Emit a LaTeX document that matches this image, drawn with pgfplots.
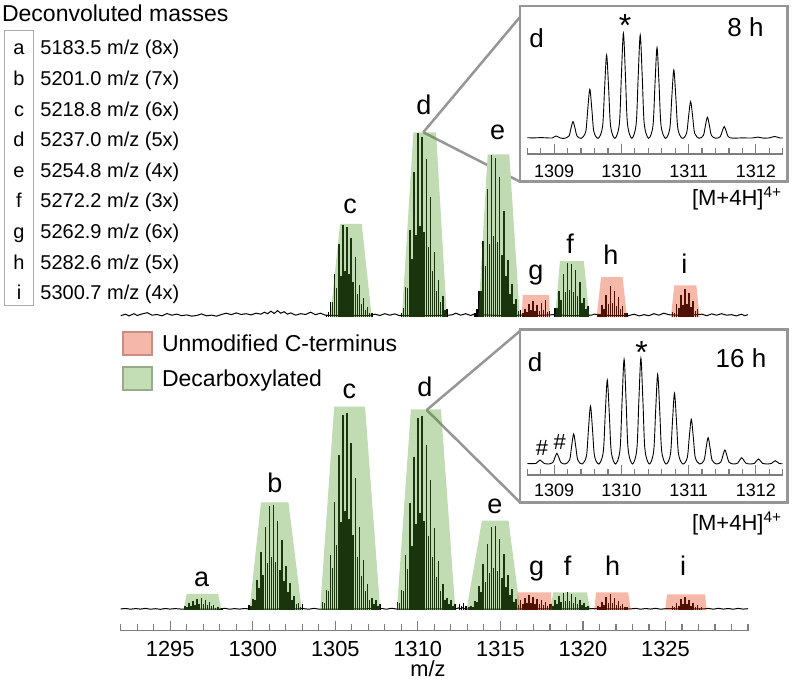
\documentclass[border=0pt]{standalone}
\usepackage{fontspec}
\setmainfont{Liberation Sans}
\usepackage{pgfplots}
\usepackage{pgfplotstable}
\pgfplotsset{compat=1.18}

\definecolor{gshade}{rgb}{0.30,0.60,0.15}
\definecolor{rshade}{rgb}{0.89,0.20,0.03}
\definecolor{axgray}{RGB}{125,125,125}
\definecolor{boxgray}{RGB}{150,150,150}
\definecolor{gleg}{RGB}{195,221,180}
\definecolor{glegb}{RGB}{150,172,138}
\definecolor{rleg}{RGB}{244,183,170}
\definecolor{rlegb}{RGB}{200,142,132}
\newcommand{\fs}[1]{\fontsize{#1}{#1}\selectfont}

% ---------- 16 h spectrum (bottom): isotope sticks, height in px above baseline
\pgfplotstableread{
x y
1295.88 3.1
1296.005 2.3
1296.13 6.0
1296.255 3.6
1296.38 8.7
1296.505 4.9
1296.63 10.9
1296.755 5.5
1296.88 11.0
1297.005 5.1
1297.13 9.4
1297.255 4.2
1297.38 7.4
1297.505 3.0
1297.63 4.6
1297.755 1.9
1297.88 2.8
1298.005 1.0
1298.13 1.4
1299.76 4.2
1299.885 3.6
1300.01 10.4
1300.135 9.9
1300.26 29.1
1300.385 21.8
1300.51 57.2
1300.635 34.3
1300.76 82.2
1300.885 46.3
1301.01 103
1301.135 52
1301.26 104
1301.385 47.8
1301.51 88.4
1301.635 39.5
1301.76 69.7
1301.885 28.1
1302.01 43.7
1302.135 17.7
1302.26 26
1302.385 9.9
1302.51 13.5
1302.635 5
1302.76 6.2
1302.885 2.9
1303.01 5.2
1304.21 7.8
1304.335 6.9
1304.46 19.6
1304.585 18.6
1304.71 54.9
1304.835 41.2
1304.96 107.8
1305.085 64.7
1305.21 154.8
1305.335 87.2
1305.46 194
1305.585 98
1305.71 196
1305.835 90.2
1305.96 166.6
1306.085 74.5
1306.21 131.3
1306.335 52.9
1306.46 82.3
1306.585 33.3
1306.71 49
1306.835 18.6
1306.96 25.5
1307.085 9.4
1307.21 11.8
1307.335 5.5
1307.46 9.8
1307.585 3.9
1307.71 5.9
1308.76 7.7
1308.885 6.8
1309.01 19.3
1309.135 18.3
1309.26 54
1309.385 40.5
1309.51 106
1309.635 63.7
1309.76 152
1309.885 85.9
1310.01 191
1310.135 96.5
1310.26 193
1310.385 88.8
1310.51 164
1310.635 73.3
1310.76 129
1310.885 52.1
1311.01 81
1311.135 32.8
1311.26 48
1311.385 18.3
1311.51 25
1311.635 9.3
1311.76 11.6
1311.885 5.4
1312.01 9.6
1312.135 3.9
1312.26 5.8
1312.51 5
1312.635 3
1312.76 6
1312.885 3.5
1312.96 3
1313.085 2.5
1313.21 3.3
1313.335 2.9
1313.46 8.3
1313.585 7.9
1313.71 23.2
1313.835 17.4
1313.96 45.7
1314.085 27.4
1314.21 65.6
1314.335 36.9
1314.46 82.2
1314.585 41.5
1314.71 83
1314.835 38.2
1314.96 70.6
1315.085 31.5
1315.21 55.6
1315.335 22.4
1315.46 34.9
1315.585 14.1
1315.71 20.8
1315.835 7.9
1315.96 10.8
1316.105 4
1316.23 9
1316.355 5
1316.48 11
1316.605 6
1316.73 14
1316.855 6
1316.98 12
1317.105 5
1317.23 10
1317.355 5
1317.48 9
1317.605 4
1317.73 7
1317.855 3
1317.98 5
1318.06 5
1318.185 3
1318.31 9
1318.435 5
1318.56 13
1318.685 7
1318.81 16
1318.935 8
1319.06 17
1319.185 8
1319.31 15
1319.435 6
1319.56 12
1319.685 5
1319.81 9
1319.935 4
1320.06 6
1320.185 2
1320.31 3.5
1320.91 3
1321.035 2
1321.16 7
1321.285 4
1321.41 12
1321.535 6
1321.66 15
1321.785 6
1321.91 11
1322.035 4
1322.16 8
1322.285 3
1322.41 5
1322.535 2
1322.66 2.5
1325.43 3
1325.555 2
1325.68 6
1325.805 3.5
1325.93 10
1326.055 5
1326.18 12
1326.305 5
1326.43 9
1326.555 3.5
1326.68 6
1326.805 2.5
1326.93 4
1327.055 1.5
1327.18 2
}\botsticks

\pgfplotstableread{
x y
1292.0 0.6
1292.3 1.0
1292.6 0.3
1292.9 0.9
1293.2 0.4
1293.5 1.1
1293.8 0.3
1294.1 0.8
1294.4 0.2
1294.7 1.0
1295.0 0.4
1295.3 0.9
1295.6 0.5
1296.5 0.5
1297.5 0.5
1298.0 0.5
1298.3 1.2
1298.6 0.3
1298.9 0.9
1299.2 0.4
1299.5 1.0
1299.8 0.5
1301.5 0.5
1303.1 0.8
1303.4 0.3
1303.7 1.1
1304.0 0.4
1306.0 0.5
1307.8 1.0
1308.1 0.3
1308.4 1.2
1308.7 0.5
1310.5 0.5
1312.3 0.8
1312.45 1.5
1312.6 0.8
1312.7 1.8
1312.85 0.6
1313.0 0.5
1316.0 0.5
1320.5 0.8
1322.9 0.6
1323.2 1.1
1323.5 0.3
1323.8 1.0
1324.1 0.4
1324.4 1.2
1324.7 0.3
1325.0 0.8
1327.3 0.6
1327.6 1.1
1327.9 0.3
1328.2 1.2
1328.5 0.4
1328.8 1.0
1329.1 0.3
1329.4 1.1
1329.7 0.4
1330.0 0.8
}\botnoise

% ---------- 8 h spectrum (top)
\pgfplotstableread{
x y
1304.46 1.8
1304.585 4.5
1304.71 14.7
1304.835 14.5
1304.96 43.1
1305.085 28.9
1305.21 72.4
1305.335 41
1305.46 91.7
1305.585 45.4
1305.71 89.9
1305.835 42.2
1305.96 78.9
1306.085 34.6
1306.21 59.6
1306.335 23
1306.46 32.1
1306.585 12.6
1306.71 18.3
1306.835 7.1
1306.96 10.1
1307.085 3.5
1307.21 3.7
1309.01 3.7
1309.135 8.3
1309.26 29.3
1309.385 28.9
1309.51 86.2
1309.635 57.8
1309.76 144.9
1309.885 82.1
1310.01 183.4
1310.135 90.8
1310.26 179.7
1310.385 84.4
1310.51 157.7
1310.635 69.2
1310.76 119.2
1310.885 45.9
1311.01 64.2
1311.135 25.2
1311.26 36.7
1311.385 14.2
1311.51 20.2
1311.635 6.9
1311.76 7.3
1313.46 3.2
1313.585 7.3
1313.71 25.9
1313.835 25.5
1313.96 76.1
1314.085 51
1314.21 128
1314.335 72.5
1314.46 162
1314.585 80.2
1314.71 158.8
1314.835 74.5
1314.96 139.3
1315.085 61.2
1315.21 105.3
1315.335 40.5
1315.46 56.7
1315.585 22.3
1315.71 32.4
1315.835 12.6
1315.96 17.8
1316.085 6.1
1316.21 6.5
1316.355 4
1316.48 8
1316.605 5
1316.73 13
1316.855 7
1316.98 16
1317.105 6
1317.23 12
1317.355 6
1317.48 14
1317.605 7
1317.73 17
1317.855 5
1317.98 6
1318.31 8.6
1318.435 8.5
1318.56 25.4
1318.685 17
1318.81 42.7
1318.935 24.2
1319.06 54
1319.185 26.7
1319.31 52.9
1319.435 24.8
1319.56 46.4
1319.685 20.4
1319.81 35.1
1319.935 13.5
1320.06 18.9
1320.185 7.4
1320.31 10.8
1320.91 3
1321.035 3
1321.16 12
1321.285 8
1321.41 22
1321.535 13
1321.66 30.6
1321.785 14
1321.91 26
1322.035 11
1322.16 20
1322.285 8
1322.41 11
1322.535 4
1322.66 4
1325.43 5
1325.555 4
1325.68 13
1325.805 9
1325.93 22
1326.055 12
1326.18 28
1326.305 13
1326.43 24
1326.555 10
1326.68 16
1326.805 6
1326.93 8
}\topsticks

\pgfplotstableread{
x y
1292.0 1.0
1292.3 2.5
1292.5 0.8
1292.8 3.0
1293.0 1.2
1293.3 2.8
1293.6 4.0
1293.9 1.5
1294.2 2.2
1294.5 0.8
1294.8 3.2
1295.1 1.5
1295.4 2.6
1295.7 1.0
1296.0 1.8
1296.3 0.6
1296.6 1.2
1296.9 2.8
1297.2 0.8
1297.5 1.6
1297.8 0.5
1298.1 2.2
1298.4 3.5
1298.7 2.0
1299.0 3.8
1299.3 2.2
1299.6 3.0
1299.9 1.8
1300.2 3.5
1300.5 2.5
1300.7 4.5
1300.9 3.0
1301.1 5.5
1301.3 3.2
1301.5 6.0
1301.7 3.5
1301.9 5.0
1302.1 2.5
1302.3 3.8
1302.6 1.5
1302.9 3.0
1303.2 2.2
1303.5 4.5
1303.8 2.0
1304.1 3.5
1304.4 1.5
1305.5 1.0
1307.0 1.0
1307.4 2.5
1307.7 1.2
1308.0 3.0
1308.3 1.5
1308.6 2.8
1308.9 1.0
1310.5 1.0
1311.9 1.5
1312.1 2.0
1312.3 3.5
1312.6 1.5
1312.9 3.0
1313.2 1.2
1313.4 2.5
1315.0 1.0
1316.25 1.5
1317.0 1.0
1318.15 2.0
1319.3 1.0
1320.5 1.5
1320.7 2.5
1321.8 1.0
1322.8 1.2
1323.1 2.5
1323.4 0.8
1323.7 2.0
1324.0 1.0
1324.3 3.0
1324.6 1.5
1324.9 3.5
1325.2 2.0
1326.2 1.0
1327.2 2.5
1327.5 1.0
1327.8 2.8
1328.1 1.5
1328.4 3.0
1328.7 1.5
1329.0 2.0
1329.3 0.8
1329.6 2.5
1329.8 1.0
1330.0 2.0
}\topnoise

% ---------- insets (peak d, profile)
\pgfplotstableread{
x y
1308.60 0.6
1308.70 0.4
1308.80 0.7
1308.90 0.4
1308.97 0.3
1309.00 1.4
1309.03 2.3
1309.06 1.4
1309.09 0.3
1309.155 0
1309.22 2.3
1309.25 10.0
1309.28 16.7
1309.31 10.0
1309.34 2.3
1309.405 0
1309.47 6.9
1309.50 29.4
1309.53 49
1309.56 29.4
1309.59 6.9
1309.655 0
1309.72 11.7
1309.75 50.0
1309.78 83.3
1309.81 50.0
1309.84 11.7
1309.905 0
1309.97 14.7
1310.00 63.0
1310.03 105
1310.06 63.0
1310.09 14.7
1310.155 0
1310.22 14.5
1310.25 62.0
1310.28 103.3
1310.31 62.0
1310.34 14.5
1310.405 0
1310.47 12.7
1310.50 54.4
1310.53 90.7
1310.56 54.4
1310.59 12.7
1310.655 0
1310.72 9.6
1310.75 41.0
1310.78 68.3
1310.81 41.0
1310.84 9.6
1310.905 0
1310.97 5.1
1311.00 22.0
1311.03 36.7
1311.06 22.0
1311.09 5.1
1311.155 0
1311.22 2.9
1311.25 12.6
1311.28 21
1311.31 12.6
1311.34 2.9
1311.405 0
1311.47 1.6
1311.50 7.0
1311.53 11.7
1311.56 7.0
1311.59 1.6
1311.655 0.2
1311.80 0.4
1311.95 0.3
1312.03 1.2
1312.11 0.2
1312.20 0.4
1312.28 1.8
1312.36 0.3
1312.40 0.5
}\insetA

\pgfplotstableread{
x y
1308.60 0.5
1308.68 0.3
1308.73 0.6
1308.76 2.4
1308.79 4
1308.82 2.4
1308.85 0.6
1308.915 0
1308.98 1.5
1309.01 6.4
1309.04 10.7
1309.07 6.4
1309.10 1.5
1309.165 0
1309.23 4.2
1309.26 18
1309.29 30
1309.32 18
1309.35 4.2
1309.415 0
1309.48 8.1
1309.51 34.8
1309.54 58
1309.57 34.8
1309.60 8.1
1309.665 0
1309.73 11.8
1309.76 50.4
1309.79 84
1309.82 50.4
1309.85 11.8
1309.915 0
1309.98 14.7
1310.01 62.8
1310.04 104.7
1310.07 62.8
1310.10 14.7
1310.165 0
1310.23 14.8
1310.26 63.4
1310.29 105.7
1310.32 63.4
1310.35 14.8
1310.415 0
1310.48 12.6
1310.51 53.8
1310.54 89.7
1310.57 53.8
1310.60 12.6
1310.665 0
1310.73 9.9
1310.76 42.4
1310.79 70.7
1310.82 42.4
1310.85 9.9
1310.915 0
1310.98 6.3
1311.01 26.8
1311.04 44.7
1311.07 26.8
1311.10 6.3
1311.165 0
1311.23 3.7
1311.26 15.8
1311.29 26.3
1311.32 15.8
1311.35 3.7
1311.415 0
1311.48 2.0
1311.51 8.4
1311.54 14
1311.57 8.4
1311.60 2.0
1311.665 0
1311.73 0.9
1311.76 3.8
1311.79 6.3
1311.82 3.8
1311.85 0.9
1311.915 0
1311.98 0.7
1312.01 3.0
1312.04 5
1312.07 3.0
1312.10 0.7
1312.165 0
1312.23 0.5
1312.26 2.0
1312.29 3.3
1312.32 2.0
1312.35 0.5
1312.40 0.2
}\insetB

\pgfplotsset{
  mainax/.style={scale only axis, clip=false, xmin=1292, xmax=1330, width=313.65pt},
  insetax/.style={scale only axis, clip=false, xmin=1308.6, xmax=1312.4, width=127.7pt,
    axis x line*=bottom, axis y line=none, ytick=\empty,
    xtick={1309,1310,1311,1312},
    minor xtick={1308.6,1308.8,1309.2,1309.4,1309.6,1309.8,1310.2,1310.4,1310.6,1310.8,1311.2,1311.4,1311.6,1311.8,1312.2,1312.4},
    tick align=inside, major tick length=5pt, minor tick length=3pt,
    tick style={axgray, line width=0.6pt},
    axis line style={axgray, line width=0.75pt},
    xticklabel style={font=\fs{9}, anchor=center, inner sep=0pt},
    /pgf/number format/assume math mode=true,
    /pgf/number format/set thousands separator={}},
  stick/.style={ycomb, black, line width=0.75pt, mark=none},
  gsh/.style={fill=gshade, fill opacity=0.35, draw=none},
  rsh/.style={fill=rshade, fill opacity=0.35, draw=none},
}

\begin{document}
\begin{tikzpicture}[x=0.5pt,y=-0.5pt]
\path[use as bounding box] (0,0) rectangle (793,689);

% connectors and inset frames
\draw[boxgray, line width=1.25pt] (423.3,132.3) -- (520,17);
\draw[boxgray, line width=1.25pt] (423.3,132.3) -- (520,181.7);
\draw[boxgray, line width=1.25pt] (426.7,410) -- (520,331);
\draw[boxgray, line width=1.25pt] (426.7,410) -- (520,502.3);
\draw[boxgray, line width=1.25pt, fill=white] (520,6) rectangle (787.3,181.7);
\draw[boxgray, line width=1.25pt, fill=white] (520,329.3) rectangle (787.3,502.3);

% ---------- bottom spectrum (16 h) with the m/z axis
\begin{axis}[mainax, at={(60.35pt,-315.35pt)}, anchor=south west,
  ymin=-21.2, ymax=210, height=115.6pt,
  axis x line*=bottom, axis y line=none, ytick=\empty,
  xtick={1295,1300,1305,1310,1315,1320,1325},
  minor xtick={1292,1293,...,1330},
  tick align=inside, major tick length=5pt, minor tick length=3.2pt,
  tick style={axgray, line width=0.6pt},
  axis line style={axgray, line width=0.75pt},
  xticklabel style={font=\fs{10.9}, anchor=center, inner sep=0pt, yshift=-9.15pt},
  /pgf/number format/assume math mode=true,
  /pgf/number format/set thousands separator={}]
\addplot[black, line width=0.5pt] table {\botnoise};
\addplot[stick] table {\botsticks};
\addplot[gsh] coordinates {(1295.8,-0.5) (1296.0,15.5) (1297.9,15.5) (1298.1,-0.5)} -- cycle;
\addplot[gsh] coordinates {(1299.8,-0.5) (1300.5,107.2) (1302.16,107.2) (1302.97,-0.5)} -- cycle;
\addplot[gsh] coordinates {(1304.08,-0.5) (1304.93,202.8) (1306.8,202.8) (1307.72,-0.5)} -- cycle;
\addplot[gsh] coordinates {(1308.73,-0.5) (1309.58,200.2) (1311.4,200.2) (1312.27,-0.5)} -- cycle;
\addplot[gsh] coordinates {(1312.95,-0.5) (1313.88,88.8) (1315.49,88.8) (1316.2,-0.5)} -- cycle;
\addplot[rsh] coordinates {(1316.0,-0.5) (1316.06,17.2) (1318.06,17.2) (1318.12,-0.5)} -- cycle;
\addplot[gsh] coordinates {(1318.02,-0.5) (1318.2,17.2) (1320.24,17.2) (1320.45,-0.5)} -- cycle;
\addplot[rsh] coordinates {(1320.68,-0.5) (1320.8,17.2) (1322.74,17.2) (1322.9,-0.5)} -- cycle;
\addplot[rsh] coordinates {(1324.99,-0.5) (1325.09,15.2) (1327.4,15.2) (1327.5,-0.5)} -- cycle;
\end{axis}

% ---------- top spectrum (8 h)
\begin{axis}[mainax, at={(60.35pt,-158.35pt)}, anchor=south west,
  ymin=0, ymax=200, height=100pt, hide axis]
\addplot[fill=white, draw=none] coordinates {(1313.66,-0.5) (1314.23,162.4) (1315.54,162.4) (1316.18,-0.5)} -- cycle;
\addplot[black, line width=0.5pt] table {\topnoise};
\addplot[stick] table {\topsticks};
\addplot[gsh] coordinates {(1304.69,-0.5) (1305.29,92.7) (1306.6,92.7) (1307.21,-0.5)} -- cycle;
\addplot[gsh] coordinates {(1309.03,-0.5) (1309.73,184.4) (1311.1,184.4) (1311.76,-0.5)} -- cycle;
\addplot[gsh] coordinates {(1313.66,-0.5) (1314.23,162.4) (1315.54,162.4) (1316.18,-0.5)} -- cycle;
\addplot[rsh] coordinates {(1316.3,-0.5) (1316.35,21.6) (1317.95,21.6) (1318.0,-0.5)} -- cycle;
\addplot[gsh] coordinates {(1318.31,-0.5) (1318.61,55.6) (1320.06,55.6) (1320.39,-0.5)} -- cycle;
\addplot[rsh] coordinates {(1320.83,-0.5) (1321.1,39.6) (1322.4,39.6) (1322.67,-0.5)} -- cycle;
\addplot[rsh] coordinates {(1325.33,-0.5) (1325.53,31.3) (1326.87,31.3) (1327.07,-0.5)} -- cycle;
\end{axis}

% ---------- insets
\begin{axis}[insetax, at={(263.65pt,-77pt)}, anchor=south west,
  ymin=-15.7, ymax=110, height=62.85pt, xticklabel style={yshift=-8.85pt}]
\addplot[black, line width=0.45pt, smooth] table {\insetA};
\end{axis}
\begin{axis}[insetax, at={(263.65pt,-237.5pt)}, anchor=south west,
  ymin=-11, ymax=110, height=60.5pt, xticklabel style={yshift=-7.8pt}]
\addplot[black, line width=0.45pt, smooth] table {\insetB};
\end{axis}

% ---------- peak letters
\begin{scope}[every node/.style={inner sep=0pt, font=\fs{13.5}}]
\node[anchor=base] at (201.7,586.7) {a};
\node[anchor=base] at (275,492.7) {b};
\node[anchor=base] at (349.3,398.3) {c};
\node[anchor=base] at (425,396.7) {d};
\node[anchor=base] at (495,513.3) {e};
\node[anchor=base] at (536.7,575) {g};
\node[anchor=base] at (567.7,575) {f};
\node[anchor=base] at (612.7,575) {h};
\node[anchor=base] at (683,575) {i};
\node[anchor=base] at (350,213.3) {c};
\node[anchor=base] at (424,115) {d};
\node[anchor=base] at (497.7,140) {e};
\node[anchor=base] at (536,279.3) {g};
\node[anchor=base] at (570,254) {f};
\node[anchor=base] at (611,265) {h};
\node[anchor=base] at (684.3,273.3) {i};
\end{scope}

% ---------- inset texts
\begin{scope}[every node/.style={inner sep=0pt}]
\node[anchor=base, font=\fs{13}] at (536.7,47.7) {d};
\node[anchor=base east, font=\fs{13}] at (764,37) {8 h};
\node[font=\fs{16}] at (625,25) {*};
\node[anchor=east, font=\fs{11}] at (782.5,198.3) {[M+4H]\textsuperscript{4+}};
\node[anchor=base, font=\fs{13}] at (535,371.7) {d};
\node[anchor=base east, font=\fs{13}] at (766.7,367.3) {16 h};
\node[font=\fs{16}] at (641.7,352.5) {*};
\node[font=\fs{11}] at (542,448.3) {\#};
\node[font=\fs{11}] at (559.7,441.7) {\#};
\node[anchor=east, font=\fs{11}] at (782.5,523.3) {[M+4H]\textsuperscript{4+}};
\node[font=\fs{10.9}] at (428,669) {m/z};
\end{scope}

% ---------- deconvoluted masses table
\node[anchor=base west, inner sep=0pt, font=\fs{11.5}] at (1.7,21.7) {Deconvoluted masses};
\draw[boxgray!80, line width=0.5pt] (4,30.7) rectangle (33.3,305.7);
\begin{scope}[every node/.style={inner sep=0pt, font=\fs{10}}]
\node[anchor=base] at (19,55) {a};   \node[anchor=base west] at (40,55) {5183.5 m/z (8x)};
\node[anchor=base] at (19,85.6) {b}; \node[anchor=base west] at (40,85.6) {5201.0 m/z (7x)};
\node[anchor=base] at (19,116.2) {c};\node[anchor=base west] at (40,116.2) {5218.8 m/z (6x)};
\node[anchor=base] at (19,146.8) {d};\node[anchor=base west] at (40,146.8) {5237.0 m/z (5x)};
\node[anchor=base] at (19,177.4) {e};\node[anchor=base west] at (40,177.4) {5254.8 m/z (4x)};
\node[anchor=base] at (19,208) {f};  \node[anchor=base west] at (40,208) {5272.2 m/z (3x)};
\node[anchor=base] at (19,238.6) {g};\node[anchor=base west] at (40,238.6) {5262.9 m/z (6x)};
\node[anchor=base] at (19,269.2) {h};\node[anchor=base west] at (40,269.2) {5282.6 m/z (5x)};
\node[anchor=base] at (19,299.8) {i};\node[anchor=base west] at (40,299.8) {5300.7 m/z (4x)};
\end{scope}

% ---------- colour legend
\draw[rlegb, line width=1pt, fill=rleg] (123.3,331.7) rectangle (151.7,355);
\draw[glegb, line width=1pt, fill=gleg] (123.3,366.7) rectangle (151.7,390);
\node[anchor=base west, inner sep=0pt, font=\fs{11.5}] at (161.7,351.5) {Unmodified C-terminus};
\node[anchor=base west, inner sep=0pt, font=\fs{11.5}] at (161.7,386.7) {Decarboxylated};
\end{tikzpicture}
\end{document}
